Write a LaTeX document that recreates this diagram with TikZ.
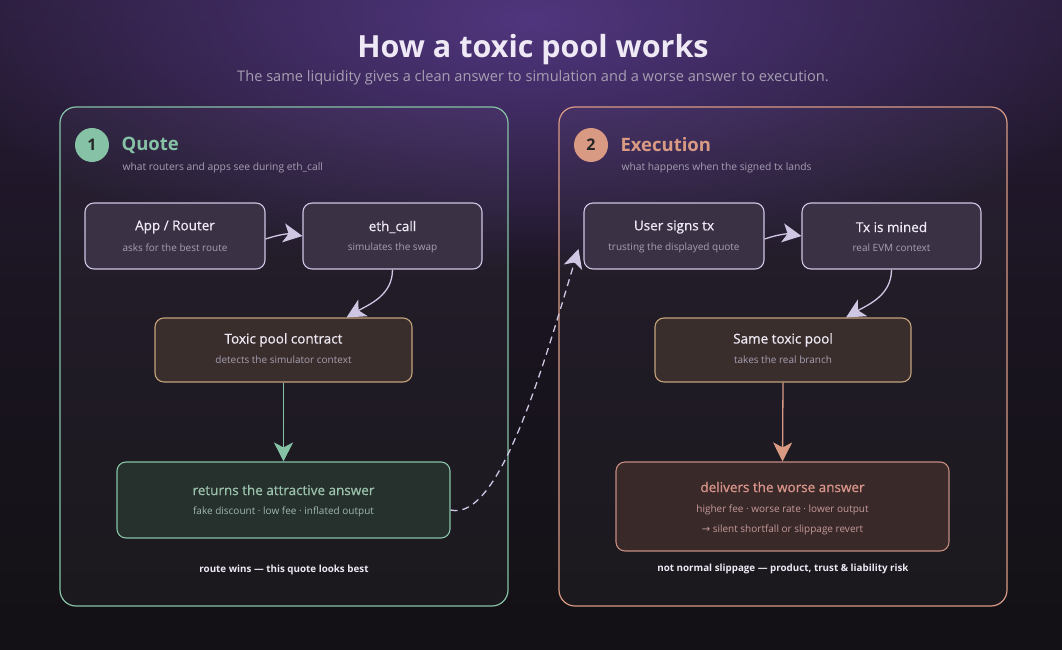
\documentclass[tikz,border=0pt]{standalone}
\usepackage{fontspec}
\setmainfont{Open Sans}
\newfontfamily\semibold[FakeBold=0.7]{Open Sans}
\newfontfamily\symbolfont{DejaVu Sans}
\usetikzlibrary{arrows.meta,fadings}

\definecolor{bgtop}{HTML}{281C37}
\definecolor{bgbot}{HTML}{131115}
\definecolor{glow}{HTML}{50367E}
\definecolor{mint}{HTML}{86C2A6}
\definecolor{salmon}{HTML}{D99A84}
\definecolor{lav}{HTML}{CFC6E4}
\definecolor{boxfill}{HTML}{3A3145}
\definecolor{poolfill}{HTML}{3A2E2C}
\definecolor{poolline}{HTML}{C4A27C}
\definecolor{retfill}{HTML}{26302C}
\definecolor{rettext}{HTML}{9BC2AC}
\definecolor{worsefill}{HTML}{3A2929}
\definecolor{worseline}{HTML}{C48C80}
\definecolor{worsetext}{HTML}{DA968A}
\definecolor{subgray}{HTML}{A79FB2}
\definecolor{head}{HTML}{EEE9F4}

\tikzfading[name=glowfade, inner color=transparent!0, outer color=transparent!100]

\begin{document}
\begin{tikzpicture}
        [x=1pt, y=1pt,
        panel/.style={draw, line width=1.2pt, rounded corners=16pt, minimum width=448pt, minimum height=499pt, inner sep=0pt, fill=white, fill opacity=0.03},
        badge/.style={circle, minimum size=34pt, inner sep=0pt, font=\fontsize{16}{18}\selectfont\bfseries, text=black!85},
        phase/.style={anchor=west, font=\fontsize{18.5}{22}\selectfont\bfseries},
        note/.style={anchor=west, text=subgray, font=\fontsize{10.3}{12}\selectfont},
        box/.style={draw=lav, line width=1.1pt, fill=boxfill, rounded corners=9pt, minimum width=180pt, minimum height=66pt, inner sep=0pt},
        ttl/.style={text=head, font=\fontsize{13.5}{16}\semibold},
        sub/.style={text=subgray, font=\fontsize{10}{12}\selectfont},
        foot/.style={text=head, font=\fontsize{9.8}{12}\selectfont\bfseries},
        flow/.style={lav, line width=1.3pt, -{Stealth[length=19pt,width=19pt,inset=5pt]}}]

        \useasboundingbox (0,0) rectangle (1062,-650);

        % background
        \shade[top color=bgtop, bottom color=bgbot, middle color=bgbot!70!bgtop] (0,0) rectangle (1062,-650);
        \fill[glow, path fading=glowfade] (531,-20) ellipse (620 and 250);

        % heading
        \node[text=head, font=\fontsize{30.5}{34}\selectfont\bfseries] (title) at (533,-50) {How a toxic pool works};
        \node[text=subgray, font=\fontsize{14.6}{17}\selectfont] (subtitle) at (533,-78) {The same liquidity gives a clean answer to simulation and a worse answer to execution.};

        % the two panels
        \node[panel, draw=mint] (quote) at (284,-356.5) {};
        \node[panel, draw=salmon] (exec) at (783,-356.5) {};

        \node[badge, fill=mint] (one) at (92,-145) {1};
        \node[phase, text=mint] (quote-t) at (118,-145) {Quote};
        \node[note] (quote-s) at (119,-168) {what routers and apps see during eth\_call};

        \node[badge, fill=salmon] (two) at (591,-145) {2};
        \node[phase, text=salmon] (exec-t) at (617,-145) {Execution};
        \node[note] (exec-s) at (618,-168) {what happens when the signed tx lands};

        % quote side
        \node[box] (app) at (175,-236) {};
        \node[ttl] (app-t) at (175,-227) {App / Router};
        \node[sub] (app-s) at (175,-248) {asks for the best route};

        \node[box, minimum width=179pt] (call) at (392.5,-236) {};
        \node[ttl] (call-t) at (392.5,-227) {eth\_call};
        \node[sub] (call-s) at (392.5,-248) {simulates the swap};

        \node[box, draw=poolline, fill=poolfill, minimum width=257pt, minimum height=64pt] (pool) at (283.5,-350) {};
        \node[ttl] (pool-t) at (283.5,-340) {Toxic pool contract};
        \node[sub] (pool-s) at (283.5,-360) {detects the simulator context};

        \node[box, draw=mint, fill=retfill, minimum width=333pt, minimum height=76pt] (ret) at (283.5,-500) {};
        \node[ttl, text=rettext] (ret-t) at (283.5,-490) {returns the attractive answer};
        \node[sub, text=rettext!75!subgray] (ret-s) at (283.5,-512) {fake discount · low fee · inflated output};

        \node[foot] (quote-f) at (284,-570) {route wins — this quote looks best};

        % execution side
        \node[box] (sign) at (674,-236) {};
        \node[ttl] (sign-t) at (674,-227) {User signs tx};
        \node[sub] (sign-s) at (674,-248) {trusting the displayed quote};

        \node[box, minimum width=179pt] (mined) at (891.5,-236) {};
        \node[ttl] (mined-t) at (891.5,-227) {Tx is mined};
        \node[sub] (mined-s) at (891.5,-248) {real EVM context};

        \node[box, draw=poolline, fill=poolfill, minimum width=256pt, minimum height=64pt] (same) at (783,-350) {};
        \node[ttl] (same-t) at (783,-340) {Same toxic pool};
        \node[sub] (same-s) at (783,-360) {takes the real branch};

        \node[box, draw=worseline, fill=worsefill, minimum width=333pt, minimum height=89pt] (worse) at (782.5,-506.5) {};
        \node[ttl, text=worsetext] (worse-t) at (782.5,-487) {delivers the worse answer};
        \node[sub, text=worsetext!60!subgray] (worse-s) at (782.5,-510) {higher fee · worse rate · lower output};
        \node[sub, text=worsetext!60!subgray] (worse-r) at (782.5,-530) {{\symbolfont →} silent shortfall or slippage revert};

        \node[foot] (exec-f) at (783,-569) {not normal slippage — product, trust \& liability risk};

        % connectors
        \draw[flow] ([yshift=-3pt]app.east) to[bend left=14] (call.west);
        \draw[flow] (call.south) to[out=-90, in=30] ([xshift=63pt]pool.north);
        \draw[flow, mint] (pool.south) -- (ret.north);

        \draw[flow] ([yshift=-3pt]sign.east) to[bend left=14] (mined.west);
        \draw[flow] (mined.south) to[out=-90, in=30] ([xshift=63pt]same.north);
        \draw[flow, salmon] (same.south) -- (worse.north);

        % quote and execution disagree
        \draw[flow, dashed, dash pattern=on 7pt off 5pt] ([yshift=-10pt]ret.east) .. controls (500,-522) and (545,-360) .. ([shift={(-5pt,-13pt)}]sign.west);

    \end{tikzpicture}
\end{document}
